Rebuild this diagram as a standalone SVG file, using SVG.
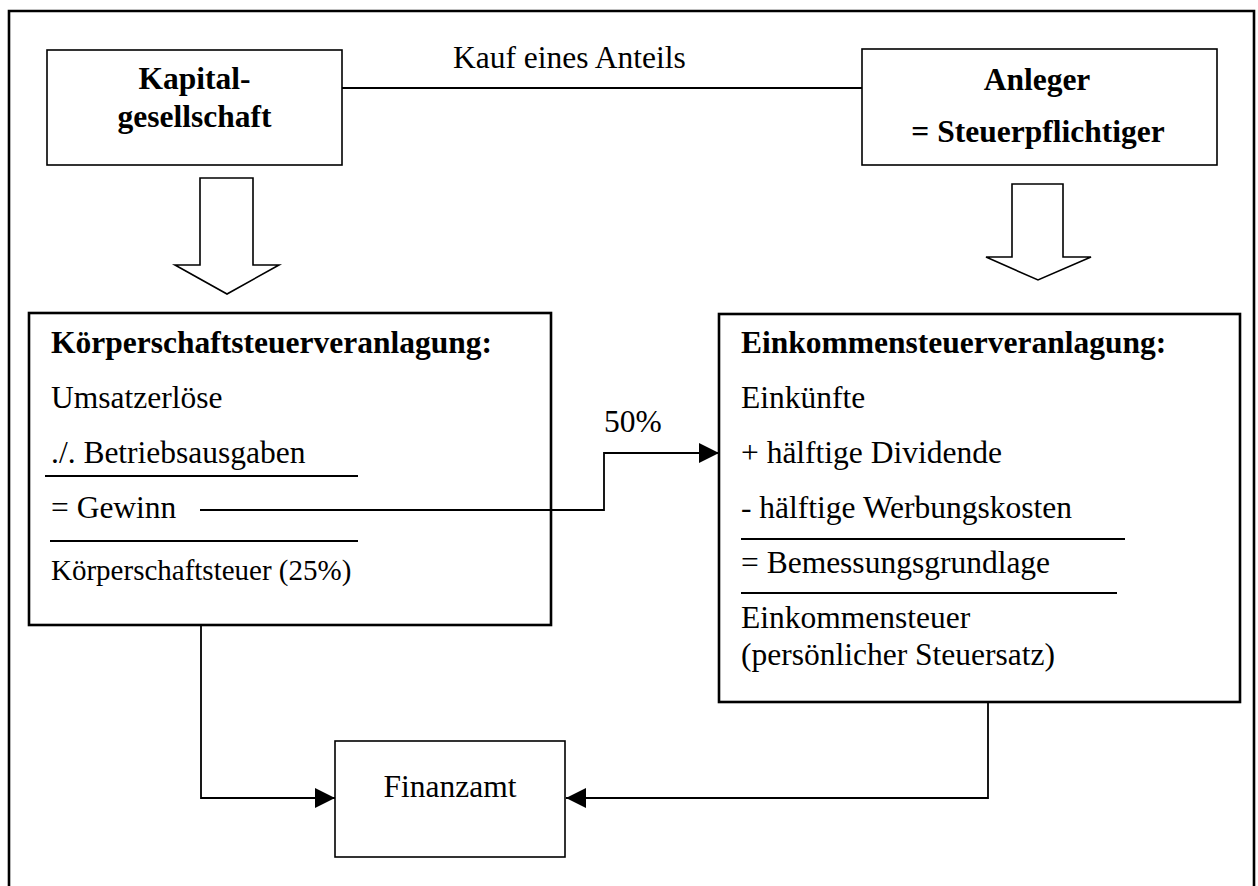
<svg xmlns="http://www.w3.org/2000/svg" width="1258" height="886" viewBox="0 0 1258 886">
<defs>
<style>
.t{font-family:"Liberation Serif","Times New Roman",serif;font-size:31.5px;fill:#000}
.b{font-weight:bold}
.m{text-anchor:middle}
.box{fill:#fff;stroke:#000;stroke-width:1.6}
.big{fill:#fff;stroke:#000;stroke-width:2.6}
.ln{fill:none;stroke:#000;stroke-width:1.8}
.blk{fill:#fff;stroke:#000;stroke-width:1.6;stroke-linejoin:miter}
</style>
<marker id="ah" viewBox="0 0 20 20" refX="20" refY="10" markerWidth="20" markerHeight="20" markerUnits="userSpaceOnUse" orient="auto">
<path d="M0,0 L20,10 L0,20 Z" fill="#000"/>
</marker>
</defs>
<rect width="1258" height="886" fill="#fff"/>
<path id="frame" d="M9,890 L9,11 L1254,11 L1254,890" fill="none" stroke="#000" stroke-width="2.6"/>

<g id="kapitalgesellschaft">
<rect class="box" x="47" y="50" width="295" height="115"/>
<text class="t b m" x="194.5" y="89">Kapital-</text>
<text class="t b m" x="194.5" y="127">gesellschaft</text>
</g>

<g id="anleger">
<rect class="box" x="862" y="49" width="355" height="116"/>
<text class="t b m" x="1037" y="90">Anleger</text>
<text class="t b m" x="1038" y="142">= Steuerpflichtiger</text>
</g>

<g id="koerperschaftsteuer">
<rect class="big" x="29" y="313" width="522" height="312"/>
<text class="t b" x="51" y="353">Körperschaftsteuerveranlagung:</text>
<text class="t" x="51" y="408">Umsatzerlöse</text>
<text class="t" x="51" y="463">./. Betriebsausgaben</text>
<line class="ln" x1="45" y1="476" x2="358" y2="476"/>
<text class="t" x="51" y="518">= Gewinn</text>
<line class="ln" x1="50" y1="541" x2="358" y2="541"/>
<text class="t" x="51" y="580" style="font-size:29px">Körperschaftsteuer (25%)</text>
</g>

<g id="einkommensteuer">
<rect class="big" x="719" y="314" width="521" height="388"/>
<text class="t b" x="741" y="353">Einkommensteuerveranlagung:</text>
<text class="t" x="741" y="408">Einkünfte</text>
<text class="t" x="741" y="463">+ hälftige Dividende</text>
<text class="t" x="741" y="518">- hälftige Werbungskosten</text>
<line class="ln" x1="741" y1="539" x2="1125" y2="539"/>
<text class="t" x="741" y="573">= Bemessungsgrundlage</text>
<line class="ln" x1="741" y1="593" x2="1117" y2="593"/>
<text class="t" x="741" y="628">Einkommensteuer</text>
<text class="t" x="741" y="665">(persönlicher Steuersatz)</text>
</g>

<g id="finanzamt">
<rect class="box" x="335" y="741" width="230" height="116"/>
<text class="t m" x="450" y="797">Finanzamt</text>
</g>

<g id="connectors">
<line class="ln" x1="342" y1="88" x2="862" y2="88"/>
<text class="t" x="453" y="68">Kauf eines Anteils</text>
<path class="ln" d="M200,510 L604,510 L604,453 L719,453" marker-end="url(#ah)"/>
<text class="t" x="604" y="432">50%</text>
<path class="ln" d="M201,625 L201,798 L335,798" marker-end="url(#ah)"/>
<path class="ln" d="M988,702 L988,798 L566,798" marker-end="url(#ah)"/>
<path class="blk" d="M200,178 L253,178 L253,265 L279,265 L227,294 L175,265 L200,265 Z"/>
<path class="blk" d="M1012,184 L1063,184 L1063,257 L1091,257 L1038,280 L986,257 L1012,257 Z"/>
</g>
</svg>
